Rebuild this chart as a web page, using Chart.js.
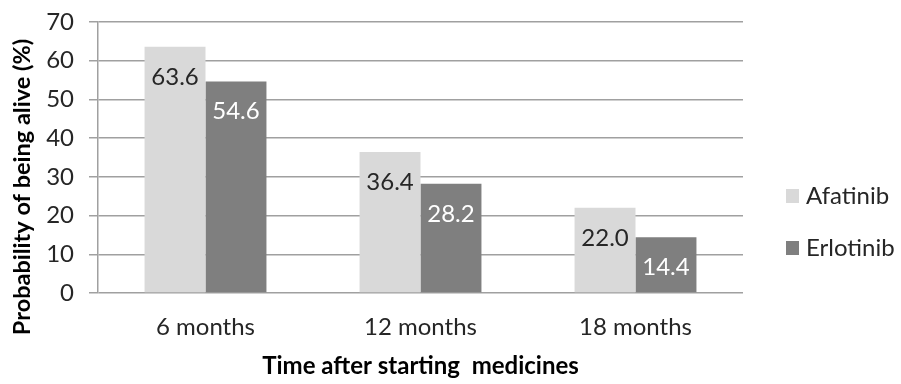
<!DOCTYPE html>
<html>
<head>
<meta charset="utf-8">
<script src="https://cdn.jsdelivr.net/npm/chart.js@4/dist/chart.umd.min.js"></script>
<style>
  html, body { margin: 0; padding: 0; background: #fff; }
  #wrap { width: 901px; height: 384px; position: relative; }
</style>
</head>
<body>
<div id="wrap"><canvas id="c" width="901" height="384"></canvas></div>
<script>
// Survival probabilities by time point
const categories = ['6 months', '12 months', '18 months'];
const afatinib = [63.6, 36.4, 22.0];
const erlotinib = [54.6, 28.2, 14.4];
const seriesNames = ['Afatinib', 'Erlotinib'];
const yTicks = [0, 10, 20, 30, 40, 50, 60, 70];
const yTitle = 'Probability of being alive (%)';
const xTitle = 'Time after starting  medicines';

const FONT = 'Lato, "Open Sans", sans-serif';
const barColors = ['#d9d9d9', '#7f7f7f'];
const labelColors = ['#262626', '#ffffff'];

// Value labels inside the top of each bar
const valueLabels = {
  id: 'valueLabels',
  afterDatasetsDraw(chart) {
    const ctx = chart.ctx;
    ctx.save();
    ctx.font = '24px ' + FONT;
    ctx.textAlign = 'center';
    ctx.textBaseline = 'middle';
    chart.data.datasets.forEach((ds, i) => {
      chart.getDatasetMeta(i).data.forEach((bar, j) => {
        ctx.fillStyle = labelColors[i];
        ctx.fillText(ds.data[j].toFixed(1), bar.x, bar.y + 30);
      });
    });
    ctx.restore();
  }
};

// Legend on the right and the rotated y-axis title
const sideText = {
  id: 'sideText',
  afterDraw(chart) {
    const ctx = chart.ctx;
    ctx.save();
    ctx.font = '24px ' + FONT;
    ctx.textBaseline = 'middle';
    ctx.textAlign = 'left';
    chart.data.datasets.forEach((ds, i) => {
      const cy = 196 + i * 52;
      ctx.fillStyle = ds.backgroundColor;
      ctx.fillRect(786, cy - 7, 13, 14);
      ctx.fillStyle = '#262626';
      ctx.fillText(ds.label, 806, cy);
    });
    ctx.translate(22, 187);
    ctx.rotate(-Math.PI / 2);
    ctx.textAlign = 'center';
    ctx.fillStyle = '#000';
    ctx.font = 'bold 23.5px ' + FONT;
    ctx.fillText(yTitle, 0, 0);
    ctx.restore();
  }
};

new Chart(document.getElementById('c'), {
  type: 'bar',
  data: {
    labels: categories,
    datasets: [
      { label: seriesNames[0], data: afatinib, backgroundColor: barColors[0] },
      { label: seriesNames[1], data: erlotinib, backgroundColor: barColors[1] }
    ]
  },
  options: {
    responsive: false,
    animation: false,
    devicePixelRatio: 1,
    layout: { padding: { top: 22, right: 158, left: 0, bottom: 0 } },
    categoryPercentage: 0.567,
    barPercentage: 1.0,
    plugins: {
      legend: { display: false },
      tooltip: { enabled: false }
    },
    scales: {
      x: {
        grid: { display: false, drawTicks: false },
        border: { display: false },
        ticks: { color: '#262626', font: { family: FONT, size: 24 }, padding: 20 },
        title: {
          display: true,
          text: xTitle,
          color: '#000',
          font: { family: FONT, size: 24, weight: 'bold' },
          padding: { top: 0, bottom: 3 }
        },
        afterFit(s) { s.height = 91; }
      },
      y: {
        min: 0,
        max: 70,
        afterBuildTicks(s) { s.ticks = yTicks.map(v => ({ value: v })); },
        grid: { color: '#a0a0a0', lineWidth: 1.5, tickLength: 9, drawTicks: true },
        border: { display: true, color: '#a0a0a0', width: 1.5 },
        ticks: { color: '#262626', font: { family: FONT, size: 24 }, padding: 15 },
        title: { display: false },
        afterFit(s) { s.width = 98; s.paddingTop = 0; s.paddingBottom = 0; }
      }
    }
  },
  plugins: [valueLabels, sideText]
});
</script>
</body>
</html>
